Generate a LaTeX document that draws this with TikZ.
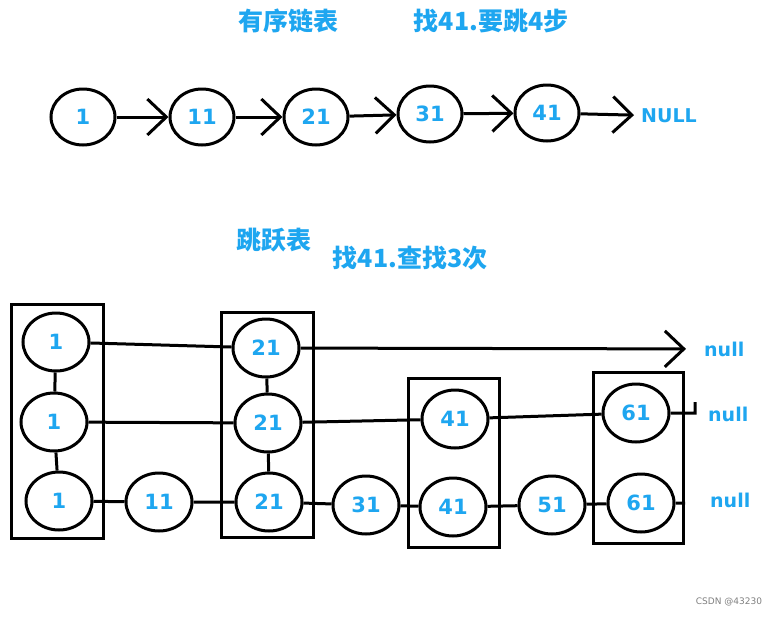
\documentclass[tikz,border=0pt]{standalone}
\usepackage{fontspec}
\setmainfont{DejaVu Sans}
\newfontfamily\cjk{Noto Sans CJK SC}
\usetikzlibrary{positioning,shapes.geometric,arrows.meta,fit}
\definecolor{skyblue}{RGB}{30,166,240}

\begin{document}
\begin{tikzpicture}[x=1pt,y=-1pt,
        elem/.style={ellipse,draw,line width=3pt,minimum width=64pt,minimum height=56pt,inner sep=0pt,
            text=skyblue,font=\bfseries\fontsize{21}{21}\selectfont},
        selem/.style={elem,minimum width=66pt,minimum height=58pt},
        tower/.style={draw,line width=3.2pt,inner xsep=10pt,inner ysep=7pt},
        link/.style={line width=3pt},
        ptr/.style={line width=3pt,-{Straight Barb[length=19pt,width=36pt,line width=3pt]}},
        title/.style={text=skyblue,font=\cjk\bfseries\fontsize{25}{28}\selectfont},
        nil/.style={text=skyblue,font=\bfseries\fontsize{19}{19}\selectfont,inner sep=1pt}]
    \useasboundingbox[fill=white] (0,0) rectangle (784,616);

    % ordered list
    \node[title] (T1) at (288,21) {有序链表};
    \node[title] (T2) at (491,21) {找41.要跳4步};
    \node[elem] (L1) at (83,117) {1};
    \node[elem] (L11) at (202,117) {11};
    \node[elem] (L21) at (316,117) {21};
    \node[elem] (L31) at (430,114) {31};
    \node[elem] (L41) at (547,113) {41};
    \node[nil,anchor=west] (LN) at (640,116) {NULL};
    \draw[ptr] (L1) -- (L11);
    \draw[ptr] (L11) -- (L21);
    \draw[ptr] (L21) -- (L31);
    \draw[ptr] (L31) -- (L41);
    \draw[ptr,shorten >=6pt] (L41) -- (LN);

    % skip list
    \node[title] (T3) at (274,240) {跳跃表};
    \node[title] (T4) at (410,258) {找41.查找3次};

    \node[selem] (S1a) at (56,342) {1};
    \node[selem] (S1b) at (54,422) {1};
    \node[selem] (S1c) at (59,501) {1};
    \node[selem] (S11) at (159,502) {11};
    \node[selem] (S21a) at (266,348) {21};
    \node[selem] (S21b) at (268,423) {21};
    \node[selem] (S21c) at (269,502) {21};
    \node[selem] (S31) at (366,505) {31};
    \node[selem] (S41b) at (455,419) {41};
    \node[selem] (S41c) at (453,507) {41};
    \node[selem] (S51) at (552,505) {51};
    \node[selem] (S61b) at (636,413) {61};
    \node[selem] (S61c) at (641,503) {61};

    \node[tower,fit=(S1a)(S1c)] (B1) {};
    \node[tower,fit=(S21a)(S21c),inner ysep=5pt] (B2) {};
    \node[tower,fit=(S41b)(S41c),inner ysep=10pt] (B3) {};
    \node[tower,fit=(S61b)(S61c),inner xsep=8pt,inner ysep=10pt] (B4) {};

    \node[nil,anchor=west] (Na) at (703,349) {null};
    \node[nil,anchor=west] (Nb) at (707,414) {null};
    \node[nil,anchor=west] (Nc) at (709,500) {null};
    \coordinate (Eb) at (695,413);
    \coordinate (Ec) at (685,503);

    \draw[link] (S1a) -- (S1b) -- (S1c);
    \draw[link] (S21a) -- (S21b) -- (S21c);
    \draw[link] (S1a) -- (S21a);
    \draw[ptr,shorten >=17pt] (S21a) -- (Na);
    \draw[link] (S1b) -- (S21b) -- (S41b) -- (S61b) -- (Eb) -- ++(0,-11);
    \draw[link] (S1c) -- (S11) -- (S21c) -- (S31) -- (S41c) -- (S51) -- (S61c) -- (Ec);

    \node[text=gray,font=\fontsize{9}{9}\selectfont] (W) at (729,602) {CSDN @43230};
\end{tikzpicture}
\end{document}
